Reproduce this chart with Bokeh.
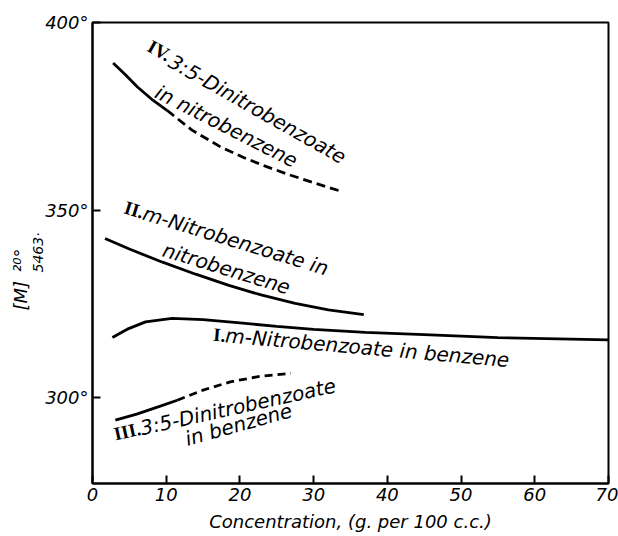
import numpy as np
from bokeh.plotting import figure
from bokeh.models import Label, FixedTicker, Range1d, Title
from bokeh.embed import file_html
from bokeh.resources import INLINE

# ---- data ----
# I. m-Nitrobenzoate in benzene (solid)
curve1_x = [2.7, 4.9, 7.2, 10.8, 15.0, 20.0, 25.0, 30.0, 37.0, 45.0, 55.0, 70.0]
curve1_y = [316.0, 318.4, 320.2, 321.1, 320.8, 319.9, 319.0, 318.2, 317.4, 316.8, 316.0, 315.4]
# II. m-Nitrobenzoate in nitrobenzene (solid)
curve2_x = [1.7, 5.0, 9.5, 14.0, 18.5, 23.0, 27.5, 32.0, 36.8]
curve2_y = [342.4, 339.6, 336.1, 332.9, 329.9, 327.3, 325.1, 323.4, 322.1]
# III. 3:5-Dinitrobenzoate in benzene (solid, then dashed)
curve3_solid_x = [3.1, 6.0, 9.0, 11.5]
curve3_solid_y = [294.0, 295.6, 297.6, 299.3]
curve3_dash_x = [11.5, 15.0, 18.7, 22.5, 26.9]
curve3_dash_y = [299.3, 302.0, 304.2, 305.6, 306.5]
# IV. 3:5-Dinitrobenzoate in nitrobenzene (solid, then dashed)
curve4_solid_x = [2.8, 4.5, 6.1, 8.0, 10.1]
curve4_solid_y = [389.2, 386.0, 382.8, 379.6, 376.6]
curve4_dash_x = [10.1, 13.5, 17.4, 20.5, 23.7, 27.0, 30.0, 33.4]
curve4_dash_y = [376.6, 371.3, 366.8, 364.0, 361.5, 359.2, 357.3, 355.2]

x_ticks = [0, 10, 20, 30, 40, 50, 60, 70]
x_tick_labels = ["0", "10", "20", "30", "40", "50", "60", "70"]
y_ticks = [300, 350, 400]
y_tick_labels = ["300°", "350°", "400°"]

x_title = "Concentration, (g. per 100 c.c.)"
y_title_main = "[M]"
y_title_sup = "²⁰°"
y_title_sub = "5463·"

numerals = ["I.", "II.", "III.", "IV."]
label1 = ["m-Nitrobenzoate in benzene"]
label2 = ["m-Nitrobenzoate in", "nitrobenzene"]
label3 = ["3:5-Dinitrobenzoate", "in benzene"]
label4 = ["3:5-Dinitrobenzoate", "in nitrobenzene"]

X0, X1 = 0, 70
Y0, Y1 = 277.1, 400

FONT = "DejaVu Sans"
SERIF = "Liberation Serif"

p = figure(width=618, height=536, x_range=Range1d(X0, X1), y_range=Range1d(Y0, Y1),
           output_backend="svg", toolbar_location=None,
           min_border_left=92, min_border_right=10, min_border_top=22, min_border_bottom=53)
p.background_fill_color = "white"
p.border_fill_color = "white"
p.grid.visible = False
p.outline_line_color = "black"
p.outline_line_width = 2

for ax in (p.xaxis[0], p.yaxis[0]):
    ax.axis_line_width = 2
    ax.axis_line_color = "black"
    ax.major_tick_in = 8
    ax.major_tick_out = 0
    ax.major_tick_line_width = 2
    ax.major_tick_line_color = "black"
    ax.minor_tick_line_color = None
    ax.major_label_text_font = FONT
    ax.major_label_text_font_style = "italic"
    ax.major_label_text_font_size = "18px"
    ax.major_label_text_color = "black"

p.xaxis.ticker = FixedTicker(ticks=x_ticks)
p.xaxis.major_label_overrides = dict(zip(x_ticks, x_tick_labels))
p.xaxis.major_label_standoff = 4
p.xaxis.axis_label = x_title
p.xaxis.axis_label_text_font = FONT
p.xaxis.axis_label_text_font_style = "italic"
p.xaxis.axis_label_text_font_size = "18px"
p.xaxis.axis_label_text_color = "black"
p.xaxis.axis_label_standoff = 7

p.yaxis.ticker = FixedTicker(ticks=y_ticks)
p.yaxis.major_label_overrides = dict(zip(y_ticks, y_tick_labels))
p.yaxis.major_label_standoff = 4

# y-axis title: [M] with superscript 20° and subscript 5463·
# (align="left" on a left panel anchors at the frame bottom; offset moves it up)
p.add_layout(Title(text=y_title_sub, align="left", offset=211, standoff=-6,
                   text_font=FONT, text_font_style="italic", text_font_size="14px",
                   text_color="black"), "left")
p.add_layout(Title(text=y_title_main + "\u2002" + y_title_sup, align="left", offset=173, standoff=0,
                   text_font=FONT, text_font_style="italic", text_font_size="18px",
                   text_color="black"), "left")

# curves
LW = 2.8
p.line(curve1_x, curve1_y, line_width=LW, line_color="black")
p.line(curve2_x, curve2_y, line_width=LW, line_color="black")
p.line(curve3_solid_x, curve3_solid_y, line_width=LW, line_color="black")
p.line(curve3_dash_x, curve3_dash_y, line_width=LW, line_color="black", line_dash="8 5")
p.line(curve4_solid_x, curve4_solid_y, line_width=LW, line_color="black")
p.line(curve4_dash_x, curve4_dash_y, line_width=LW, line_color="black", line_dash="9 5")


def lab(x, y, text, angle_deg=0.0, align="center", font=FONT, style="italic", size="20px"):
    p.add_layout(Label(x=x, y=y, text=text, angle=np.radians(angle_deg), text_align=align,
                       text_baseline="middle", text_font=font, text_font_style=style,
                       text_font_size=size, text_color="black"))

# curve labels
# IV
lab(10.45, 391.0, numerals[3], -29.5, align="right", font=SERIF, style="bold", size="19px")
lab(10.58, 390.0, label4[0], -29.5, align="left")
lab(18.18, 372.3, label4[1], -27.0)
# II
lab(6.92, 349.35, numerals[1], -17, align="right", font=SERIF, style="bold", size="19px")
lab(6.92, 349.35, label2[0], -17, align="left")
lab(18.18, 334.4, label2[1], -17)
# I
lab(18.04, 316.6, numerals[0], -5, align="right", font=SERIF, style="bold", size="19px")
lab(18.04, 316.6, label1[0], -5, align="left")
# III
lab(6.51, 291.8, numerals[2], 12.5, align="right", font=SERIF, style="bold", size="19px")
lab(6.51, 291.8, label3[0], 12.5, align="left")
lab(19.81, 292.8, label3[1], 15.5)

open("out.html", "w").write(file_html(p, INLINE))
